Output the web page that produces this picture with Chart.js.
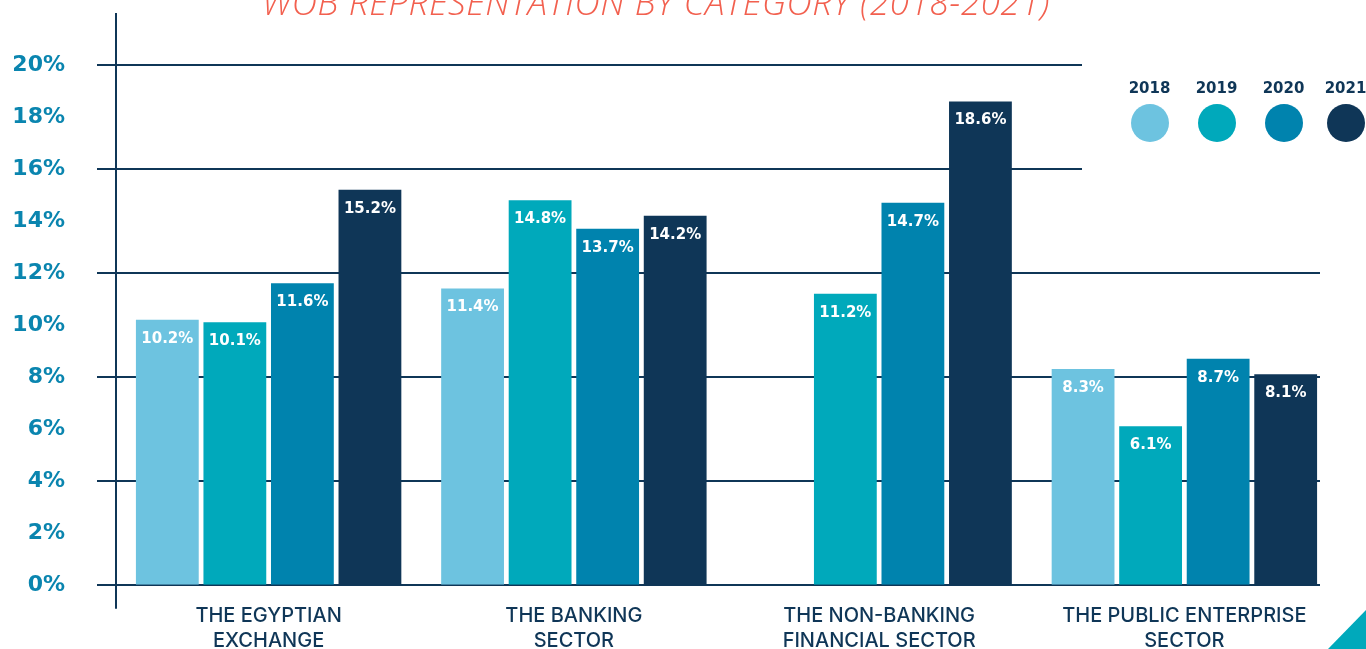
<!DOCTYPE html>
<html>
<head>
<meta charset="utf-8">
<script src="https://cdn.jsdelivr.net/npm/chart.js@4/dist/chart.umd.min.js"></script>
<style>
  html, body { margin: 0; padding: 0; background: #ffffff; overflow: hidden; }
  #wrap { position: relative; width: 1366px; height: 649px; overflow: hidden; }
  #c { position: absolute; left: 0; top: 0; }
  #title { position: absolute; left: 0; width: 1312px; top: -16px; text-align: center;
           font-family: "Open Sans", sans-serif; font-style: italic; font-weight: 300;
           font-size: 35px; line-height: 35px; color: #f2604f; letter-spacing: 0.6px; white-space: nowrap; }
  #legend { position: absolute; left: 1116px; top: 78px; display: flex; }
  .li { width: 67px; display: flex; flex-direction: column; align-items: center; }
  .li:last-child { margin-left: -5px; }
  .li span { font-family: "DejaVu Sans", sans-serif; font-weight: bold; font-size: 15px; line-height: 20px; color: #0f3657; }
  .li i { display: block; width: 38px; height: 38px; border-radius: 50%; margin-top: 6px; }
  #tri { position: absolute; right: 0; bottom: 0; width: 0; height: 0;
         border-left: 38px solid transparent; border-bottom: 39px solid #00a9bb; }
</style>
</head>
<body>
<div id="wrap">
  <canvas id="c" width="1366" height="649"></canvas>
  <div id="title"></div>
  <div id="legend"></div>
  <div id="tri"></div>
</div>
<script>
// ---- data ----
const chartTitle = "WOB REPRESENTATION BY CATEGORY (2018-2021)";
const categories = [
  ["THE EGYPTIAN", "EXCHANGE"],
  ["THE BANKING", "SECTOR"],
  ["THE NON-BANKING", "FINANCIAL SECTOR"],
  ["THE PUBLIC ENTERPRISE", "SECTOR"]
];
const seriesNames = ["2018", "2019", "2020", "2021"];
const values2018 = [10.2, 11.4, null, 8.3];
const values2019 = [10.1, 14.8, 11.2, 6.1];
const values2020 = [11.6, 13.7, 14.7, 8.7];
const values2021 = [15.2, 14.2, 18.6, 8.1];
const yTickValues = [0, 2, 4, 6, 8, 10, 12, 14, 16, 18, 20];
const gridValues = [0, 4, 8, 12, 16, 20];

// ---- style ----
const colors = ["#6dc3e0", "#00a9bb", "#0083ae", "#0f3657"];
const navy = "#0f3657";
const tickBlue = "#0a85af";

document.getElementById("title").textContent = chartTitle;
const legendEl = document.getElementById("legend");
seriesNames.forEach((n, i) => {
  const d = document.createElement("div");
  d.className = "li";
  d.innerHTML = "<span>" + n + "</span><i style='background:" + colors[i] + "'></i>";
  legendEl.appendChild(d);
});

const allValues = [values2018, values2019, values2020, values2021];

const gridPlugin = {
  id: "customGrid",
  beforeDatasetsDraw(chart) {
    const { ctx, chartArea, scales } = chart;
    ctx.save();
    ctx.strokeStyle = navy;
    ctx.lineWidth = 2;
    gridValues.forEach(v => {
      const y = Math.round(scales.y.getPixelForValue(v));
      const xEnd = v >= 16 ? chartArea.left + 966 : chartArea.right - 17;
      ctx.beginPath();
      ctx.moveTo(chartArea.left - 19, y);
      ctx.lineTo(xEnd, y);
      ctx.stroke();
    });
    // vertical axis
    ctx.beginPath();
    ctx.moveTo(chartArea.left, 13);
    ctx.lineTo(chartArea.left, chartArea.bottom + 24);
    ctx.stroke();
    ctx.restore();
  }
};

const labelPlugin = {
  id: "valueLabels",
  afterDatasetsDraw(chart) {
    const { ctx } = chart;
    ctx.save();
    ctx.fillStyle = "#ffffff";
    ctx.font = "bold 15px 'DejaVu Sans'";
    ctx.textAlign = "center";
    ctx.textBaseline = "middle";
    chart.data.datasets.forEach((ds, di) => {
      const meta = chart.getDatasetMeta(di);
      meta.data.forEach((el, i) => {
        const v = ds.data[i];
        if (v === null || v === undefined) return;
        ctx.fillText(v.toFixed(1) + "%", el.x, el.y + 19);
      });
    });
    ctx.restore();
  }
};

new Chart(document.getElementById("c"), {
  type: "bar",
  data: {
    labels: categories,
    datasets: seriesNames.map((n, i) => ({
      label: n,
      data: allValues[i],
      backgroundColor: colors[i],
      borderWidth: 0,
      categoryPercentage: 0.885,
      barPercentage: 0.93
    }))
  },
  options: {
    responsive: false,
    animation: false,
    devicePixelRatio: 1,
    layout: { padding: { top: 65, right: 29, left: 0, bottom: 0 } },
    plugins: { legend: { display: false }, title: { display: false }, tooltip: { enabled: false } },
    scales: {
      x: {
        grid: { display: false, drawTicks: false },
        border: { display: false },
        ticks: {
          color: navy,
          font: { family: "Inter", size: 20, weight: 500, lineHeight: 1.25 },
          padding: 19,
          maxRotation: 0,
          autoSkip: false
        },
        afterFit(s) { s.height = 63; }
      },
      y: {
        min: 0, max: 20,
        afterBuildTicks(s) { s.ticks = yTickValues.map(v => ({ value: v })); },
        grid: { display: false, drawTicks: false },
        border: { display: false },
        ticks: {
          color: tickBlue,
          font: { family: "DejaVu Sans", size: 22, weight: "bold" },
          padding: 51,
          callback: v => v + "%"
        },
        afterFit(s) { s.width = 116; }
      }
    }
  },
  plugins: [gridPlugin, labelPlugin]
});
</script>
</body>
</html>
